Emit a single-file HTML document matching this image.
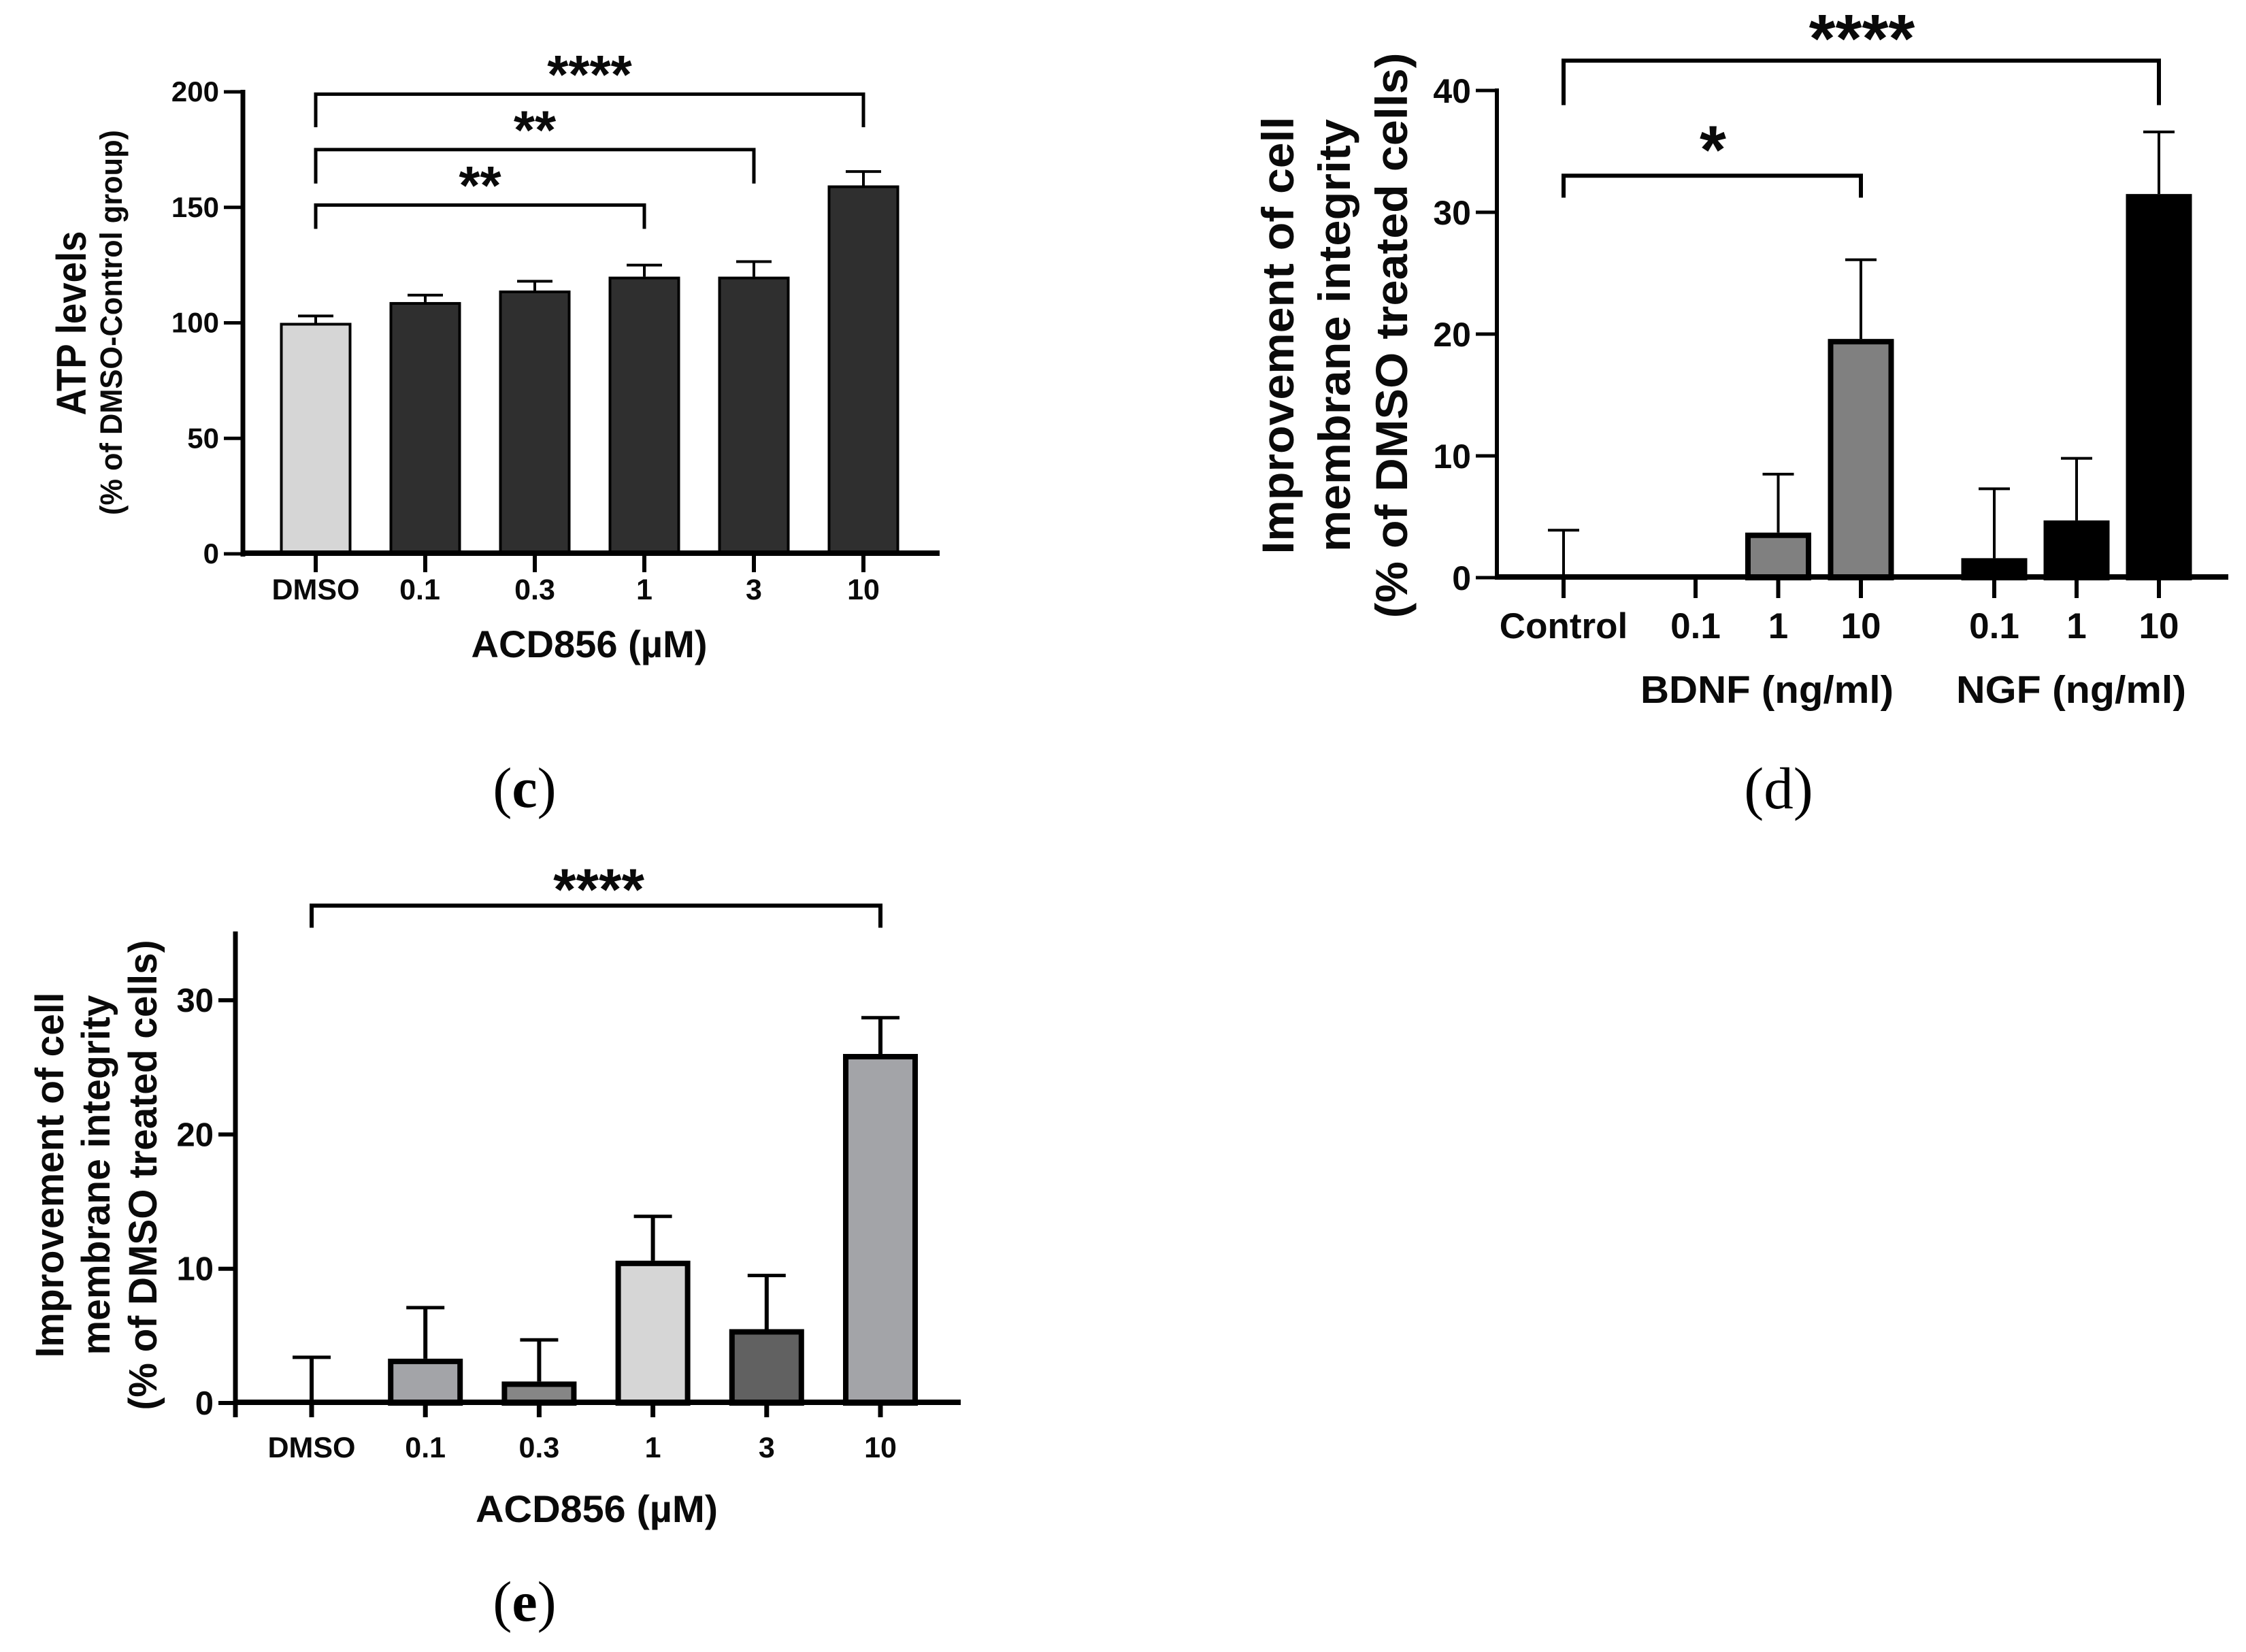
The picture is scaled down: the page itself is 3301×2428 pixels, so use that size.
<!DOCTYPE html>
<html lang="en">
<head>
<meta charset="utf-8">
<title>ACD856 bar charts</title>
<style>
html,body{margin:0;padding:0;background:#fff;}
svg{display:block;}
text{font-family:"Liberation Sans",sans-serif;font-weight:bold;fill:#0a0a0a;}
.panel{font-family:"Liberation Serif",serif;font-weight:normal;fill:#000;}
</style>
</head>
<body>
<svg id="figure" xmlns="http://www.w3.org/2000/svg" width="3301" height="2428" viewBox="0 0 3301 2428">
<rect width="3301" height="2428" fill="#ffffff"/>

<g>
<text transform="translate(126,475) rotate(-90)" text-anchor="middle" font-size="61" textLength="271" lengthAdjust="spacingAndGlyphs">ATP levels</text>
<text transform="translate(179,474) rotate(-90)" text-anchor="middle" font-size="45" textLength="566" lengthAdjust="spacingAndGlyphs">(% of DMSO-Control group)</text>
<text x="866" y="966" text-anchor="middle" font-size="56" textLength="347" lengthAdjust="spacingAndGlyphs">ACD856 (µM)</text>
<text class="panel" x="771" y="1186" text-anchor="middle" font-size="84">(<tspan font-weight="bold">c</tspan>)</text>
</g>

<g>
<text transform="translate(1901,493) rotate(-90)" text-anchor="middle" font-size="66" textLength="643" lengthAdjust="spacingAndGlyphs">Improvement of cell</text>
<text transform="translate(1984,493) rotate(-90)" text-anchor="middle" font-size="66" textLength="636" lengthAdjust="spacingAndGlyphs">membrane integrity</text>
<text transform="translate(2068,493) rotate(-90)" text-anchor="middle" font-size="66" textLength="831" lengthAdjust="spacingAndGlyphs">(% of DMSO treated cells)</text>
<text x="2597" y="1033" text-anchor="middle" font-size="57" textLength="372" lengthAdjust="spacingAndGlyphs">BDNF (ng/ml)</text>
<text x="3044" y="1033" text-anchor="middle" font-size="57" textLength="338" lengthAdjust="spacingAndGlyphs">NGF (ng/ml)</text>
<text class="panel" x="2614" y="1188" text-anchor="middle" font-size="87">(d)</text>
</g>

<g>
<text transform="translate(93,1727) rotate(-90)" text-anchor="middle" font-size="58" textLength="537" lengthAdjust="spacingAndGlyphs">Improvement of cell</text>
<text transform="translate(161,1727) rotate(-90)" text-anchor="middle" font-size="58" textLength="529" lengthAdjust="spacingAndGlyphs">membrane integrity</text>
<text transform="translate(230,1727) rotate(-90)" text-anchor="middle" font-size="58" textLength="691" lengthAdjust="spacingAndGlyphs">(% of DMSO treated cells)</text>
<text x="877" y="2237" text-anchor="middle" font-size="56" textLength="356" lengthAdjust="spacingAndGlyphs">ACD856 (µM)</text>
<text class="panel" x="771" y="2382" text-anchor="middle" font-size="84">(<tspan font-weight="bold">e</tspan>)</text>
</g>
</svg>

<script>
// Chart (c) data
const cCategories = ['DMSO', '0.1', '0.3', '1', '3', '10'];
const cMeans = [100, 109, 114, 120, 120, 159.5];
const cErrors = [3, 3, 4, 5, 6.5, 6];
const cYTicks = [0, 50, 100, 150, 200];
const cBracketFrom = [0, 0, 0];
const cBracketTo = [5, 4, 3];
const cBracketLevel = [199, 175, 151];
const cBracketFoot = [184.7, 160.3, 140.7];
const cBracketStars = ['****', '**', '**'];

// Chart (d) data
const dCategories = ['Control', '0.1', '1', '10', '0.1', '1', '10'];
const dMeans = [0, 0.1, 3.7, 19.6, 1.6, 4.7, 31.5];
const dErrors = [3.9, 0, 4.8, 6.5, 5.7, 5.1, 5.1];
const dYTicks = [0, 10, 20, 30, 40];
const dBracketFrom = [0, 0];
const dBracketTo = [6, 3];
const dBracketLevel = [42.45, 33];
const dBracketFoot = [38.8, 31.2];
const dBracketStars = ['****', '*'];

// Chart (e) data
const eCategories = ['DMSO', '0.1', '0.3', '1', '3', '10'];
const eMeans = [0, 3.3, 1.6, 10.6, 5.5, 26];
const eErrors = [3.4, 3.8, 3.1, 3.3, 4, 2.7];
const eYTicks = [0, 10, 20, 30];
const eBracketFrom = [0];
const eBracketTo = [5];
const eBracketLevel = [37.05];
const eBracketFoot = [35.4];
const eBracketStars = ['****'];

const SVGNS = 'http://www.w3.org/2000/svg';
const root = document.getElementById('figure');

function mk(parent, tag, attrs, name) {
  const el = document.createElementNS(SVGNS, tag);
  for (const k in attrs) el.setAttribute(k, attrs[k]);
  
  
  parent.appendChild(el);
  return el;
}
function line(parent, x1, y1, x2, y2, w, name) {
  return mk(parent, 'line', {x1: x1, y1: y1, x2: x2, y2: y2, stroke: '#000', 'stroke-width': w}, name);
}
function label(parent, x, y, str, size, anchor, name) {
  const t = mk(parent, 'text', {x: x, y: y, 'font-size': size, 'text-anchor': anchor}, name);
  t.textContent = str;
  return t;
}

function drawChart(c) {
  const g = mk(root, 'g', {}, c.id);
  const y = v => c.y0 - v * c.unit;
  const x = c.x;

  // bars
  c.means.forEach((m, i) => {
    const sw = c.barStroke(i);
    const w = c.barWidth;
    const top = y(m);
    mk(g, 'rect', {
      x: x(i) - w / 2 + sw / 2, y: top + sw / 2,
      width: w - sw, height: Math.max(0, c.y0 - top - sw / 2),
      fill: c.barFill(i), stroke: '#000', 'stroke-width': sw
    }, c.id + '-bar-' + i);
  });

  // error bars
  c.means.forEach((m, i) => {
    const top = y(m + c.errors[i]);
    line(g, x(i), y(m), x(i), top, c.errStem, c.id + '-error-stem-' + i);
    line(g, x(i) - c.errCap / 2, top, x(i) + c.errCap / 2, top, c.errCapW, c.id + '-error-cap-' + i);
  });

  // axes
  line(g, c.axisX, c.axisTop, c.axisX, c.axisBottom, c.yAxisW, c.id + '-y-axis');
  line(g, c.axisX - c.yAxisW / 2, c.y0 - 1, c.axisRight, c.y0 - 1, c.xAxisW, c.id + '-x-axis');

  // y ticks
  c.yTicks.forEach(v => {
    line(g, c.axisX - c.yTickLen, y(v), c.axisX, y(v), c.yTickW, c.id + '-y-tick-' + v);
    label(g, c.yLabelRight, y(v) + c.yLabelDy, String(v), c.yLabelSize, 'end', c.id + '-y-tick-label-' + v);
  });

  // x ticks
  c.categories.forEach((name, i) => {
    line(g, x(i), c.y0, x(i), c.xTickEnd, c.xTickW, c.id + '-x-tick-' + i);
    label(g, x(i) + c.xLabelDx(i), c.xLabelY, name, c.xLabelSize, 'middle', c.id + '-x-tick-label-' + i);
  });

  // significance brackets
  c.bFrom.forEach((f, j) => {
    const x1 = x(f), x2 = x(c.bTo[j]);
    const yl = y(c.bLevel[j]), yf = y(c.bFoot[j]);
    mk(g, 'path', {
      d: 'M' + x1 + ' ' + yf + 'V' + yl + 'H' + x2 + 'V' + yf,
      fill: 'none', stroke: '#000', 'stroke-width': c.bracketW
    }, c.id + '-bracket-' + j);
    const s = c.bStars[j];
    const tx = c.starX(j, x1, x2);
    const ty = yl - c.starGap(j) + c.starSize * 0.56;
    label(g, tx, ty, s, c.starSize, 'middle', c.id + '-significance-' + j);
  });
}

drawChart({
  id: 'chart-c', categories: cCategories, means: cMeans, errors: cErrors, yTicks: cYTicks,
  bFrom: cBracketFrom, bTo: cBracketTo, bLevel: cBracketLevel, bFoot: cBracketFoot, bStars: cBracketStars,
  x: i => 464 + i * 161, y0: 814, unit: 3.395,
  barWidth: 105, barStroke: () => 4, barFill: i => i === 0 ? '#d6d6d6' : '#2f2f2f',
  errStem: 4, errCap: 52, errCapW: 4,
  axisX: 357, axisTop: 132, axisBottom: 818, axisRight: 1381, yAxisW: 7, xAxisW: 8,
  yTickLen: 28, yTickW: 5, yLabelRight: 322, yLabelDy: 14, yLabelSize: 42,
  xTickEnd: 841, xTickW: 6, xLabelDx: i => i === 1 ? -8 : 0, xLabelY: 881, xLabelSize: 43,
  bracketW: 5, starSize: 80, starX: (j, a, b) => (a + b) / 2, starGap: j => 46
});

drawChart({
  id: 'chart-d', categories: dCategories, means: dMeans, errors: dErrors, yTicks: dYTicks,
  bFrom: dBracketFrom, bTo: dBracketTo, bLevel: dBracketLevel, bFoot: dBracketFoot, bStars: dBracketStars,
  x: i => i === 0 ? 2298 : (i < 4 ? 2492 + (i - 1) * 121.5 : 2931 + (i - 4) * 121), y0: 849, unit: 17.9,
  barWidth: 97, barStroke: i => i === 1 ? 3 : 8, barFill: i => i < 4 ? '#808080' : '#000000',
  errStem: 4, errCap: 46, errCapW: 4,
  axisX: 2200, axisTop: 130, axisBottom: 852, axisRight: 3275, yAxisW: 6, xAxisW: 8,
  yTickLen: 31, yTickW: 5, yLabelRight: 2162, yLabelDy: 18, yLabelSize: 50,
  xTickEnd: 879, xTickW: 6, xLabelDx: i => 0, xLabelY: 938, xLabelSize: 53,
  bracketW: 6, starSize: 100, starX: (j, a, b) => (a + b) / 2 + 1, starGap: j => j === 0 ? 54 : 60
});

drawChart({
  id: 'chart-e', categories: eCategories, means: eMeans, errors: eErrors, yTicks: eYTicks,
  bFrom: eBracketFrom, bTo: eBracketTo, bLevel: eBracketLevel, bFoot: eBracketFoot, bStars: eBracketStars,
  x: i => 458 + i * 167.2, y0: 2062, unit: 19.73,
  barWidth: 110, barStroke: () => 8, barFill: i => ['#d6d6d6', '#a3a4a8', '#868686', '#d6d6d6', '#616161', '#a3a4a8'][i],
  errStem: 6, errCap: 56, errCapW: 5,
  axisX: 346, axisTop: 1369, axisBottom: 2083, axisRight: 1412, yAxisW: 7, xAxisW: 8,
  yTickLen: 25, yTickW: 6, yLabelRight: 314, yLabelDy: 17, yLabelSize: 49,
  xTickEnd: 2083, xTickW: 7, xLabelDx: i => 0, xLabelY: 2142, xLabelSize: 43,
  bracketW: 6, starSize: 86, starX: (j, a, b) => 880, starGap: j => 42
});
</script>
</body>
</html>
